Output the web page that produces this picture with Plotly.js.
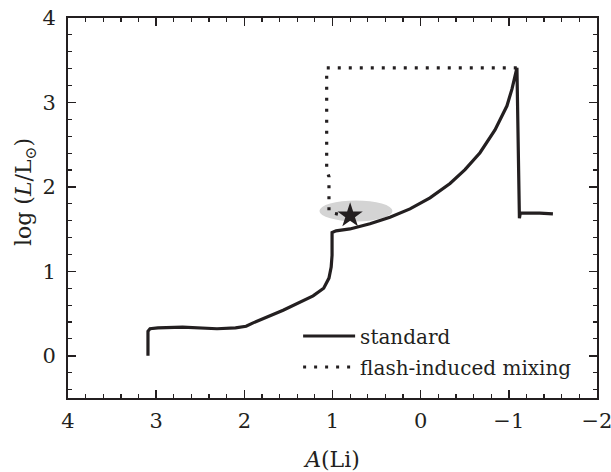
<!DOCTYPE html>
<html>
<head>
<meta charset="utf-8">
<script src="https://cdn.plot.ly/plotly-3.0.1.min.js"></script>
<style>html,body{margin:0;padding:0;background:#fff;}#chart{width:611px;height:472px;}</style>
</head>
<body>
<div id="chart"></div>
<script>
// Standard track: A(Li) and log(L/Lsun)
const stdALi = [3.093, 3.093, 3.07, 2.98, 2.70, 2.31, 2.10, 1.98, 1.90, 1.56, 1.22, 1.10, 1.04, 1.015, 1.005, 1.005, 0.96, 0.802, 0.575, 0.348, 0.121, -0.106, -0.333, -0.503, -0.673, -0.843, -0.979, -1.036, -1.092, -1.12, -1.13, -1.35, -1.50];
const stdLogL = [0.00, 0.29, 0.32, 0.33, 0.34, 0.32, 0.33, 0.35, 0.39, 0.54, 0.71, 0.80, 0.92, 1.05, 1.19, 1.46, 1.48, 1.502, 1.564, 1.640, 1.739, 1.870, 2.040, 2.204, 2.405, 2.675, 2.960, 3.16, 3.41, 1.63, 1.69, 1.69, 1.68];
// Flash-induced mixing track
const mixALi = [-1.09, 1.066, 1.066, 1.04, 1.04, 0.86];
const mixLogL = [3.41, 3.41, 2.20, 2.12, 1.70, 1.66];
// Observed star and its uncertainty ellipse
const starALi = [0.80];
const starLogL = [1.66];
const ellCenter = [0.734, 1.715];
const ellRadius = [0.414, 0.124];
const xTickVals = [4, 3, 2, 1, 0, -1, -2];
const yTickVals = [0, 1, 2, 3, 4];

const ink = '#231f20';
const fontFam = 'DejaVu Serif';

const traces = [
  {x: stdALi, y: stdLogL, type: 'scatter', mode: 'lines', name: 'standard',
   line: {color: ink, width: 3.2}, legendgroup: 'a'},
  {x: mixALi, y: mixLogL, type: 'scatter', mode: 'lines', name: 'flash-induced mixing',
   line: {color: ink, width: 3.2, dash: '3px,8px'}, legendgroup: 'b'},
  {x: starALi, y: starLogL, type: 'scatter', mode: 'markers', showlegend: false,
   marker: {symbol: 'star', size: 19, color: ink, line: {width: 0}}}
];

const axisCommon = {
  showline: true, linewidth: 2, linecolor: ink, mirror: 'allticks',
  ticks: 'inside', ticklen: 8, tickwidth: 1.5, tickcolor: ink,
  showgrid: false, zeroline: false, ticklabeloverflow: 'allow',
  tickfont: {family: fontFam, size: 21, color: ink},
  minor: {ticks: 'inside', ticklen: 4, tickwidth: 1.2, tickcolor: ink, dtick: 0.2, showgrid: false}
};

const layout = {
  width: 611, height: 472,
  margin: {l: 68, r: 14, t: 18, b: 74},
  paper_bgcolor: '#fff', plot_bgcolor: '#fff',
  font: {family: fontFam, color: ink, size: 20},
  showlegend: true,
  legend: {x: 0.435, y: 0.2145, xanchor: 'left', yanchor: 'top',
           bgcolor: 'rgba(0,0,0,0)', borderwidth: 0, itemwidth: 52,
           font: {family: fontFam, size: 20, color: ink}, tracegroupgap: 2},
  xaxis: Object.assign({}, axisCommon, {
    range: [4, -2], tickvals: xTickVals, ticklabelstandoff: 3,
    title: {text: '<i>A</i>(Li)', font: {family: fontFam, size: 22, color: ink}, standoff: 19}
  }),
  yaxis: Object.assign({}, axisCommon, {
    range: [-0.5, 4], tickvals: yTickVals, ticklabelstandoff: 6
  }),
  annotations: [{
    text: 'log (<i>L</i>/L<sub>⊙</sub>)', xref: 'paper', yref: 'paper',
    x: -0.0813, y: 0.542, xanchor: 'center', yanchor: 'middle', textangle: -90,
    showarrow: false, font: {family: fontFam, size: 22, color: ink}
  }],
  shapes: [{
    type: 'circle', xref: 'x', yref: 'y', layer: 'below',
    x0: ellCenter[0] - ellRadius[0], x1: ellCenter[0] + ellRadius[0],
    y0: ellCenter[1] - ellRadius[1], y1: ellCenter[1] + ellRadius[1],
    fillcolor: 'rgb(212,212,212)', line: {width: 0}
  }]
};

Plotly.newPlot('chart', traces, layout, {displayModeBar: false, staticPlot: true});
</script>
</body>
</html>
